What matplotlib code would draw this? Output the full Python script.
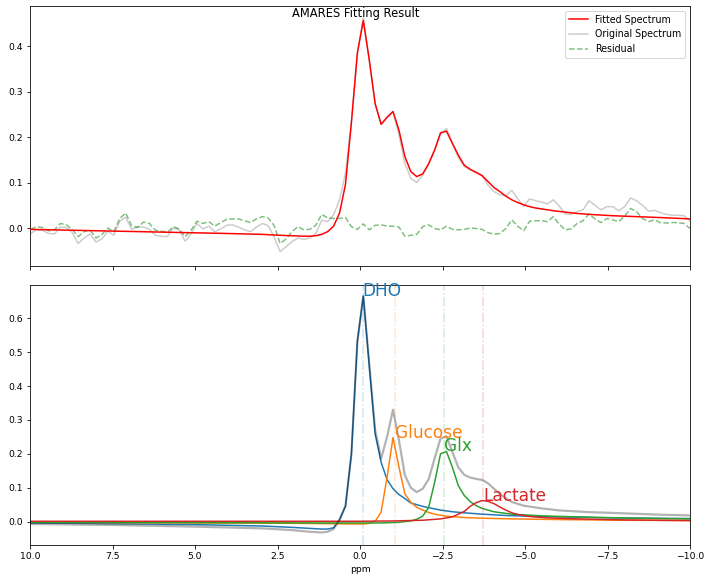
import numpy as np
import matplotlib
matplotlib.use('Agg')
import matplotlib.pyplot as plt

# spectral axis (ppm) of the measured points
ppm = [9.98, 9.80, 9.62, 9.44, 9.26, 9.08, 8.90, 8.72, 8.54, 8.36,
       8.18, 8.00, 7.82, 7.64, 7.46, 7.28, 7.10, 6.92, 6.74, 6.56,
       6.38, 6.20, 6.02, 5.84, 5.66, 5.48, 5.30, 5.12, 4.94, 4.76,
       4.58, 4.40, 4.22, 4.04, 3.86, 3.68, 3.50, 3.32, 3.14, 2.96,
       2.78, 2.60, 2.42, 2.24, 2.06, 1.88, 1.70, 1.52, 1.34, 1.16,
       0.98, 0.80, 0.62, 0.44, 0.26, 0.08, -0.10, -0.28, -0.46, -0.64,
       -0.82, -1.00, -1.18, -1.36, -1.54, -1.72, -1.90, -2.08, -2.26, -2.44,
       -2.62, -2.80, -2.98, -3.16, -3.34, -3.52, -3.70, -3.88, -4.06, -4.24,
       -4.42, -4.60, -4.78, -4.96, -5.14, -5.32, -5.50, -5.68, -5.86, -6.04,
       -6.22, -6.40, -6.58, -6.76, -6.94, -7.12, -7.30, -7.48, -7.66, -7.84,
       -8.02, -8.20, -8.38, -8.56, -8.74, -8.92, -9.10, -9.28, -9.46, -9.64,
       -9.82, -10.00]

original = [-0.012, -0.004, -0.005, -0.012, -0.013, 0.002, 0.001, -0.010, -0.034, -0.022,
            -0.013, -0.031, -0.024, -0.007, -0.016, 0.015, 0.024, -0.003, 0.003, 0.002,
            -0.003, -0.016, -0.018, -0.019, 0.000, -0.004, -0.029, -0.013, 0.010, -0.002,
            0.004, -0.008, -0.002, 0.006, 0.007, 0.002, -0.004, -0.008, 0.002, 0.010,
            0.005, -0.020, -0.052, -0.041, -0.030, -0.022, -0.025, -0.022, -0.012, 0.017,
            0.014, 0.029, 0.062, 0.120, 0.235, 0.382, 0.462, 0.370, 0.272, 0.228,
            0.245, 0.256, 0.205, 0.142, 0.109, 0.100, 0.116, 0.142, 0.172, 0.206,
            0.219, 0.186, 0.155, 0.135, 0.128, 0.124, 0.116, 0.094, 0.080, 0.073,
            0.071, 0.083, 0.064, 0.048, 0.064, 0.060, 0.057, 0.053, 0.062, 0.048,
            0.031, 0.030, 0.036, 0.040, 0.060, 0.050, 0.040, 0.047, 0.047, 0.038,
            0.047, 0.066, 0.060, 0.050, 0.037, 0.039, 0.034, 0.030, 0.028, 0.028,
            0.027, 0.015]

residual = [-0.003, 0.003, 0.001, -0.006, -0.004, 0.010, 0.007, -0.003, -0.019, -0.008,
            -0.004, -0.022, -0.014, 0.000, -0.008, 0.021, 0.033, 0.005, 0.001, 0.013,
            0.010, -0.005, -0.007, -0.010, 0.003, -0.002, -0.019, -0.005, 0.015, 0.010,
            0.014, 0.004, 0.012, 0.019, 0.020, 0.020, 0.016, 0.012, 0.020, 0.025,
            0.022, 0.005, -0.034, -0.024, -0.008, 0.003, -0.004, -0.003, 0.006, 0.030,
            0.022, 0.021, 0.021, 0.023, 0.003, -0.003, 0.009, -0.004, 0.006, 0.007,
            0.004, 0.004, 0.002, -0.018, -0.016, -0.014, 0.003, 0.007, -0.001, -0.004,
            0.004, -0.003, -0.004, -0.003, 0.000, -0.001, -0.003, -0.010, -0.014, -0.012,
            -0.001, 0.018, 0.004, -0.006, 0.015, 0.016, 0.016, 0.014, 0.025, 0.008,
            -0.004, -0.002, 0.010, 0.016, 0.031, 0.020, 0.012, 0.021, 0.018, 0.014,
            0.026, 0.043, 0.036, 0.021, 0.014, 0.018, 0.012, 0.011, 0.012, 0.012,
            0.010, -0.001]

# fitted spectrum (smooth, fewer points in the flat tails)
ppm_fit = [9.98, 8.00, 6.02, 4.04, 2.96, 2.42, 2.06, 1.70, 1.52, 1.34,
           1.16, 0.98, 0.80, 0.62, 0.44, 0.26, 0.08, -0.10, -0.28, -0.46,
           -0.64, -0.82, -1.00, -1.18, -1.36, -1.54, -1.72, -1.90, -2.08, -2.26,
           -2.44, -2.62, -2.80, -2.98, -3.16, -3.34, -3.52, -3.70, -3.88, -4.06,
           -4.24, -4.42, -4.60, -4.78, -4.96, -5.14, -5.32, -5.50, -5.86, -6.22,
           -6.58, -6.94, -7.66, -8.38, -9.10, -10.00]
fitted = [-0.003, -0.006, -0.009, -0.012, -0.014, -0.016, -0.017, -0.018, -0.018, -0.017,
          -0.014, -0.008, 0.004, 0.033, 0.096, 0.232, 0.385, 0.456, 0.370, 0.273,
          0.228, 0.243, 0.256, 0.215, 0.157, 0.124, 0.113, 0.119, 0.141, 0.171,
          0.209, 0.213, 0.186, 0.160, 0.138, 0.129, 0.122, 0.115, 0.102, 0.089,
          0.080, 0.070, 0.062, 0.056, 0.051, 0.047, 0.044, 0.042, 0.038, 0.035,
          0.032, 0.030, 0.027, 0.025, 0.023, 0.020]

# individual components
ppm_dho = [9.98, 7.46, 4.94, 2.96, 2.06, 1.52, 1.16, 0.98, 0.80, 0.62, 0.44, 0.26, 0.08,
           -0.10, -0.28, -0.46, -0.64, -0.82, -1.00, -1.18, -1.36, -1.54, -1.72, -1.90,
           -2.08, -2.44, -2.80, -3.16, -3.70, -4.42, -5.50, -6.58, -7.66, -8.74, -10.00]
dho = [-0.004, -0.006, -0.009, -0.013, -0.017, -0.020, -0.022, -0.022, -0.018, 0.006, 0.045, 0.200, 0.532,
       0.666, 0.460, 0.258, 0.175, 0.124, 0.097, 0.080, 0.068, 0.055, 0.050, 0.045,
       0.041, 0.034, 0.029, 0.026, 0.022, 0.018, 0.015, 0.013, 0.011, 0.010, 0.009]

ppm_glc = [9.98, 4.94, 2.06, 0.98, 0.26, -0.10, -0.28, -0.46, -0.64, -0.82, -1.00, -1.18,
           -1.36, -1.54, -1.72, -1.90, -2.08, -2.26, -2.62, -3.16, -3.70, -4.60, -6.04,
           -8.02, -10.00]
glucose = [-0.002, -0.004, -0.005, -0.006, -0.007, -0.007, -0.005, 0.001, 0.028, 0.131, 0.248, 0.161,
           0.082, 0.057, 0.042, 0.034, 0.027, 0.022, 0.016, 0.012, 0.010, 0.008, 0.006,
           0.004, 0.003]

ppm_glx = [9.98, 4.94, 1.52, 0.44, -0.64, -1.18, -1.54, -1.72, -1.90, -2.08, -2.26, -2.44,
           -2.62, -2.80, -2.98, -3.16, -3.34, -3.52, -3.70, -4.06, -4.60, -5.50, -6.94,
           -8.38, -10.00]
glx = [-0.002, -0.003, -0.004, -0.004, -0.004, -0.002, 0.002, 0.007, 0.016, 0.042, 0.115, 0.200,
       0.207, 0.160, 0.106, 0.077, 0.059, 0.047, 0.039, 0.029, 0.022, 0.017, 0.013,
       0.010, 0.008]

ppm_lac = [9.98, 2.06, 0.08, -1.00, -1.90, -2.44, -2.80, -3.16, -3.34, -3.52, -3.70, -3.88,
           -4.06, -4.24, -4.42, -4.60, -4.78, -5.14, -5.68, -6.58, -8.02, -10.00]
lactate = [0.001, 0.001, 0.001, 0.002, 0.004, 0.008, 0.014, 0.030, 0.045, 0.056, 0.062, 0.060,
           0.053, 0.043, 0.034, 0.026, 0.021, 0.015, 0.011, 0.008, 0.005, 0.003]

# sum of components
ppm_sum = [9.98, 7.46, 4.94, 2.96, 2.06, 1.52, 1.16, 0.98, 0.80, 0.62, 0.44, 0.26, 0.08,
           -0.10, -0.28, -0.46, -0.64, -0.82, -1.00, -1.18, -1.36, -1.54, -1.72, -1.90,
           -2.08, -2.26, -2.44, -2.62, -2.80, -2.98, -3.16, -3.34, -3.52, -3.70, -3.88,
           -4.06, -4.24, -4.42, -4.60, -4.96, -5.50, -6.04, -6.94, -7.84, -8.92, -10.00]
total = [-0.007, -0.010, -0.015, -0.020, -0.025, -0.030, -0.032, -0.030, -0.022, 0.005, 0.047, 0.200, 0.530,
         0.664, 0.466, 0.270, 0.186, 0.250, 0.330, 0.240, 0.137, 0.100, 0.087, 0.097,
         0.125, 0.186, 0.245, 0.252, 0.205, 0.160, 0.138, 0.130, 0.126, 0.123, 0.113,
         0.097, 0.081, 0.069, 0.058, 0.047, 0.039, 0.033, 0.028, 0.025, 0.021, 0.018]

names = ['DHO', 'Glucose', 'Glx', 'Lactate']
shifts = [-0.08, -1.05, -2.56, -3.73]
colors = ['C0', 'C1', 'C2', 'C3']

fig = plt.figure(figsize=(712 / 72, 582 / 72), dpi=72)
ax1 = fig.add_axes([30 / 712, 1 - 266 / 582, 660 / 712, 260 / 582])
ax2 = fig.add_axes([30 / 712, 1 - 545 / 582, 660 / 712, 260 / 582], sharex=ax1)

# top: fit result
ax1.plot(ppm_fit, fitted, color='red', lw=1.5, label='Fitted Spectrum', zorder=3)
ax1.plot(ppm, original, color='gray', alpha=0.4, lw=1.5, label='Original Spectrum', zorder=2)
ax1.plot(ppm, residual, color='green', alpha=0.5, lw=1.5, ls='--', label='Residual', zorder=2)
ax1.legend(loc='upper right', fontsize=9.5)
ax1.set_ylim(-0.0835, 0.488)
ax1.set_yticks([0.0, 0.1, 0.2, 0.3, 0.4])
ax1.tick_params(labelbottom=False, labelsize=9.3)

# bottom: individual components
comps = [(ppm_dho, dho), (ppm_glc, glucose), (ppm_glx, glx), (ppm_lac, lactate)]
for (x, y), name, pos, c in zip(comps, names, shifts, colors):
    ax2.plot(x, y, color=c, lw=1.5)
    ax2.axvline(pos, color=c, ls='-.', alpha=0.2)
    ax2.text(pos, max(y), name, color=c, fontsize=17)
ax2.plot(ppm_sum, total, color='black', alpha=0.3, lw=2.2)
ax2.set_ylim(-0.069, 0.698)
ax2.set_yticks([0.0, 0.1, 0.2, 0.3, 0.4, 0.5, 0.6])
ax2.tick_params(labelsize=9.3)
ax2.set_xlabel('ppm', fontsize=9.3, labelpad=4)

ax1.set_xlim(10, -10)
ax1.set_xticks([10, 7.5, 5, 2.5, 0, -2.5, -5, -7.5, -10])

fig.suptitle('AMARES Fitting Result', fontsize=11.5, y=1 - 7 / 582, va='top')

fig.savefig('out.png', dpi=72)
